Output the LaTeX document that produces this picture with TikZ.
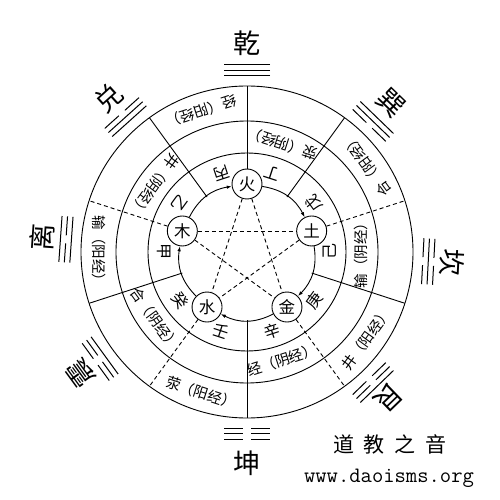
\documentclass[tikz,border=0pt]{standalone}
\usepackage{fontspec}
\usepackage{tikz}
\usetikzlibrary{arrows.meta, positioning, calc}
\newfontfamily\cjk{Noto Sans CJK SC}

\begin{document}
\begin{tikzpicture}[
    x=1pt, y=1pt,
    ring/.style={draw, line width=0.9pt},
    elem/.style={circle, draw, fill=white, line width=0.9pt, minimum size=30pt, inner sep=0pt, font=\cjk\fontsize{16.5}{16.5}\selectfont},
    stem/.style={inner sep=0pt, font=\cjk\fontsize{16}{16}\selectfont},
    shu/.style={inner sep=0pt, font=\cjk\fontsize{14.5}{14.5}\selectfont},
    gua/.style={inner sep=0pt, font=\cjk\fontsize{27}{27}\selectfont},
    yao/.style={line width=1pt},
    sheng/.style={line width=0.9pt, -{Latex[length=5pt,width=3.5pt]}},
    ke/.style={line width=0.9pt, dash pattern=on 4pt off 3pt},
    bound/.style={line width=0.9pt}
]
\useasboundingbox (-247,-248) rectangle (253,252);

% rings
\draw[ring] (0,0) circle (166);
\draw[ring] (0,0) circle (131);
\draw[ring] (0,0) circle (99);

% boundaries of the five parts
\foreach \a in {54,126,198,-18,-90}
    \draw[bound] (\a:68) -- (\a:166);

% five elements
\node[elem] (huo) at (90:68) {火};
\node[elem] (tu) at (18:68) {土};
\node[elem] (jin) at (-54:68) {金};
\node[elem] (shui) at (234:68) {水};
\node[elem] (mu) at (162:68) {木};

% sheng cycle
\draw[sheng] (mu) to[bend left=27] (huo);
\draw[sheng] (huo) to[bend left=27] (tu);
\draw[sheng] (tu) to[bend left=27] (jin);
\draw[sheng] (jin) to[bend left=27] (shui);
\draw[sheng] (shui) to[bend left=27] (mu);

% ke cycle
\draw[ke] (huo) -- (shui);
\draw[ke] (huo) -- (jin);
\draw[ke] (mu) -- (tu);
\draw[ke] (mu) -- (jin);
\draw[ke] (tu) -- (shui);

% lines out of the elements
\draw[bound] (huo) -- (90:166);
\draw[ke] (tu) -- (18:166);
\draw[ke] (jin) -- (-54:166);
\draw[ke] (shui) -- (234:166);
\draw[ke] (mu) -- (162:166);

% heavenly stems
\node[stem, rotate=198] (bing) at (108:83) {丙};
\node[stem, rotate=162] (ding) at (72:83) {丁};
\node[stem, rotate=126] (wu) at (36:83) {戊};
\node[stem, rotate=90] (ji) at (0:83) {己};
\node[stem, rotate=54] (geng) at (-36:83) {庚};
\node[stem, rotate=18] (xin) at (-72:83) {辛};
\node[stem, rotate=-18] (ren) at (252:83) {壬};
\node[stem, rotate=-54] (gui) at (216:83) {癸};
\node[stem, rotate=-90] (jia) at (180:83) {甲};
\node[stem, rotate=234] (yi) at (144:83) {乙};

% yin meridians
\node[shu, rotate=162] (yinying) at (72:114) {荥（阴经）};
\node[shu, rotate=90] (yinshu) at (0:114) {输（阴经）};
\node[shu, rotate=18] (yinjing) at (-72:114) {经（阴经）};
\node[shu, rotate=-54] (yinhe) at (216:114) {合（阴经）};
\node[shu, rotate=234] (yinjingwell) at (144:114) {井（阴经）};

% yang meridians
\node[shu, rotate=198] (yangjing) at (108:148) {经（阳经）};
\node[shu, rotate=126] (yanghe) at (36:148) {合（阳经）};
\node[shu, rotate=54] (yangjingwell) at (-36:148) {井（阳经）};
\node[shu, rotate=-18] (yangying) at (252:148) {荥（阳经）};
\node[shu, rotate=-90] (yangshu) at (180:148) {输（阳经）};

% trigram lines, bottom line first
\foreach \ang/\ya/\yb/\yc in {90/1/1/1, 132/1/1/0, 176/1/0/1, 216/1/0/0,
                              46/0/1/1, -3/0/1/0, -46/0/0/1, -90/0/0/0} {
    \begin{scope}[rotate=\ang]
        \foreach \r/\yy in {176/\ya, 181.5/\yb, 187/\yc} {
            \ifnum\yy=1
                \draw[yao] (\r,-23) -- (\r,23);
            \else
                \draw[yao] (\r,-23) -- (\r,-4) (\r,4) -- (\r,23);
            \fi
        }
    \end{scope}
}

% trigram names
\node[gua] (qian) at (90:209) {乾};
\node[gua, rotate=42] (dui) at (132:207) {兑};
\node[gua, rotate=86] (li) at (176:205) {离};
\node[gua, rotate=126] (zhen) at (216:206) {震};
\node[gua, rotate=-44] (xun) at (46:207) {巽};
\node[gua, rotate=-93] (kan) at (-3:205) {坎};
\node[gua, rotate=-136] (gen) at (-46:203) {艮};
\node[gua] (kun) at (-90:211) {坤};

% site
\node[font=\cjk\fontsize{21}{21}\selectfont] (site) at (143,-192) {道\hspace{10pt}教\hspace{10pt}之\hspace{10pt}音};
\node[font=\ttfamily\fontsize{22}{22}\selectfont] (url) at (142,-226) {www.daoisms.org};
\end{tikzpicture}
\end{document}
